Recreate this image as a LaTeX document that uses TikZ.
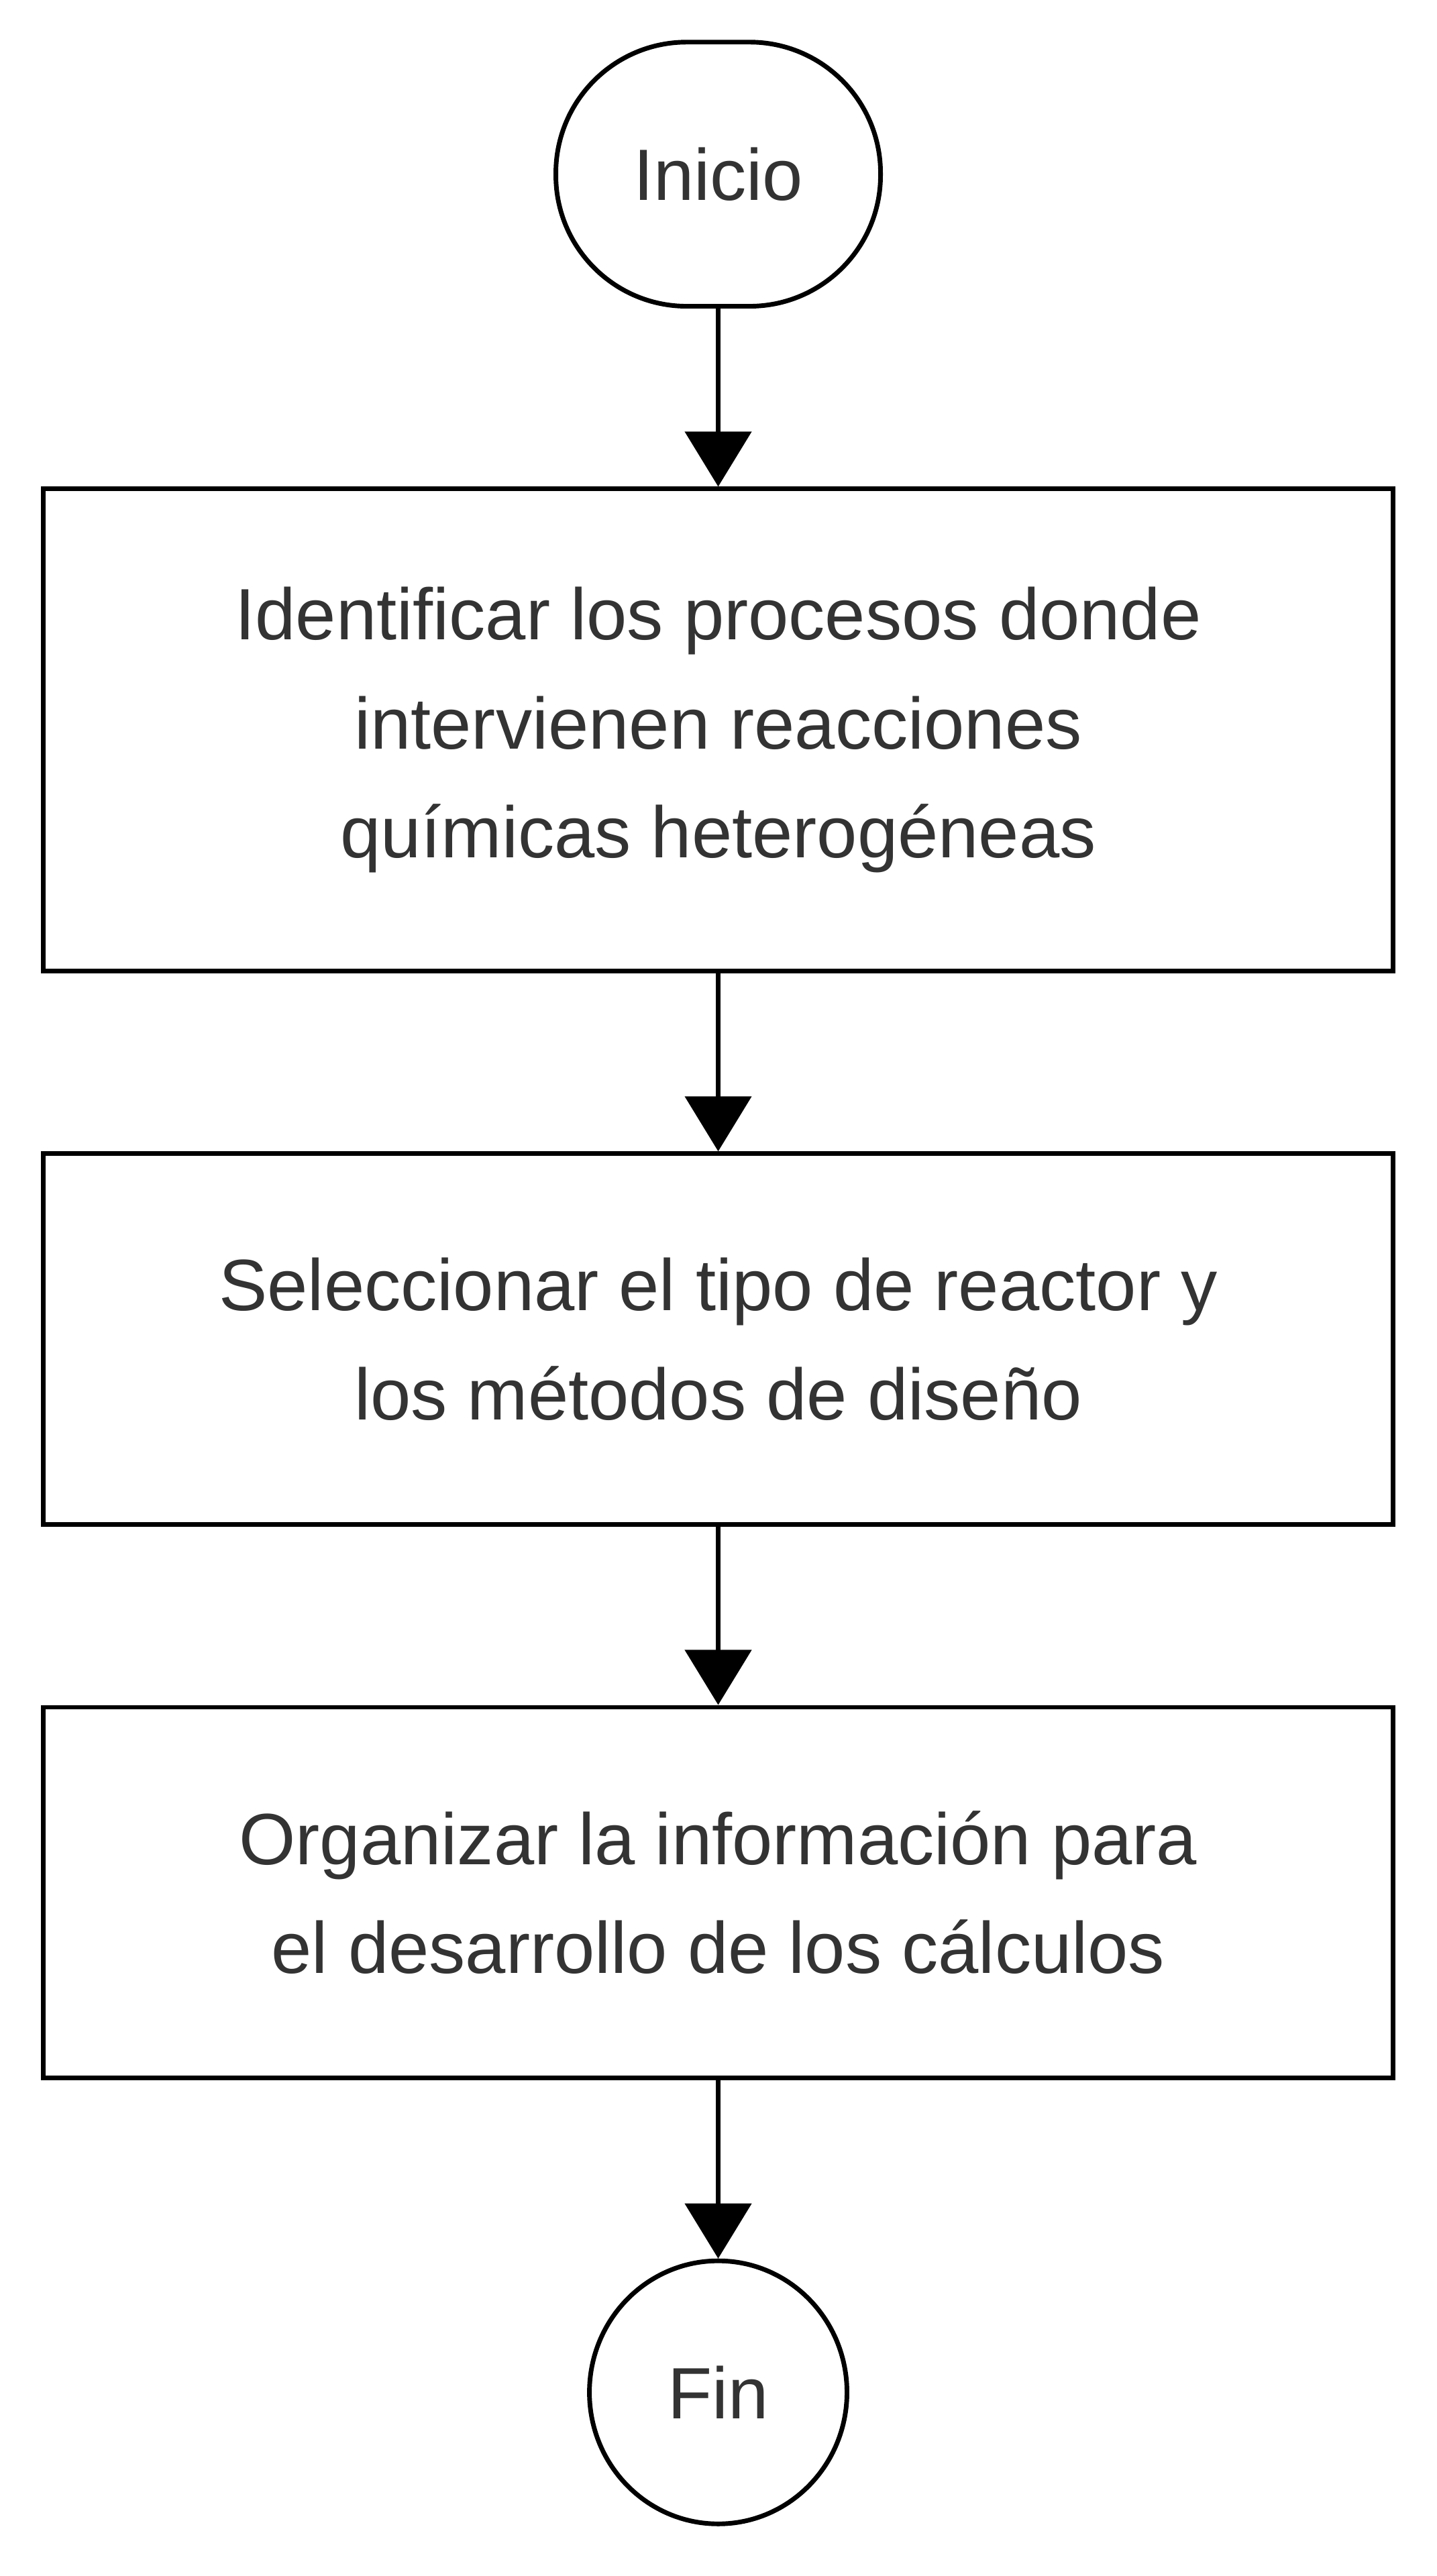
\documentclass[tikz,border=0pt]{standalone}
\usepackage{fontspec}
\setmainfont{Liberation Sans}
\usetikzlibrary{positioning,arrows.meta,shapes.geometric}
\definecolor{texto}{HTML}{333333}
\tikzset{
  base/.style={draw=black, line width=2.4pt, text=texto, align=center,
    font=\fontsize{37.6}{56.3}\selectfont},
  inicio/.style={base, rectangle, rounded corners=2.38cm, minimum width=5.9cm, minimum height=4.8cm},
  fin/.style={base, ellipse, inner sep=0pt, minimum width=4.68cm, minimum height=4.78cm},
  proceso/.style={base, rectangle, minimum width=24.52cm},
  flecha/.style={line width=2.4pt, -{Triangle[width=1.2cm, length=1cm]}}
}

\begin{document}
\begin{tikzpicture}
			%%%%% START %%%%%
			\def\xc{13.05}
			\def\gap{3.235cm}
			\useasboundingbox (0,0) rectangle (26.1,-46.81);
			
			\node[inicio] (ini) at (\xc,-3.165) {Inicio};
			\node[proceso, minimum height=8.76cm, below=\gap of ini] (identificar)
				{Identificar los procesos donde\\intervienen reacciones\\químicas heterogéneas};
			\node[proceso, minimum height=6.74cm, below=\gap of identificar] (seleccionar)
				{Seleccionar el tipo de reactor y\\los métodos de diseño};
			\node[proceso, minimum height=6.74cm, below=\gap of seleccionar] (organizar)
				{Organizar la información para\\el desarrollo de los cálculos};
			\node[fin, below=\gap of organizar] (fin) {Fin};
			
			\draw[flecha] (ini) -- (identificar);
			\draw[flecha] (identificar) -- (seleccionar);
			\draw[flecha] (seleccionar) -- (organizar);
			\draw[flecha] (organizar) -- (fin);
			%%%%% END %%%%%
\end{tikzpicture}
\end{document}
